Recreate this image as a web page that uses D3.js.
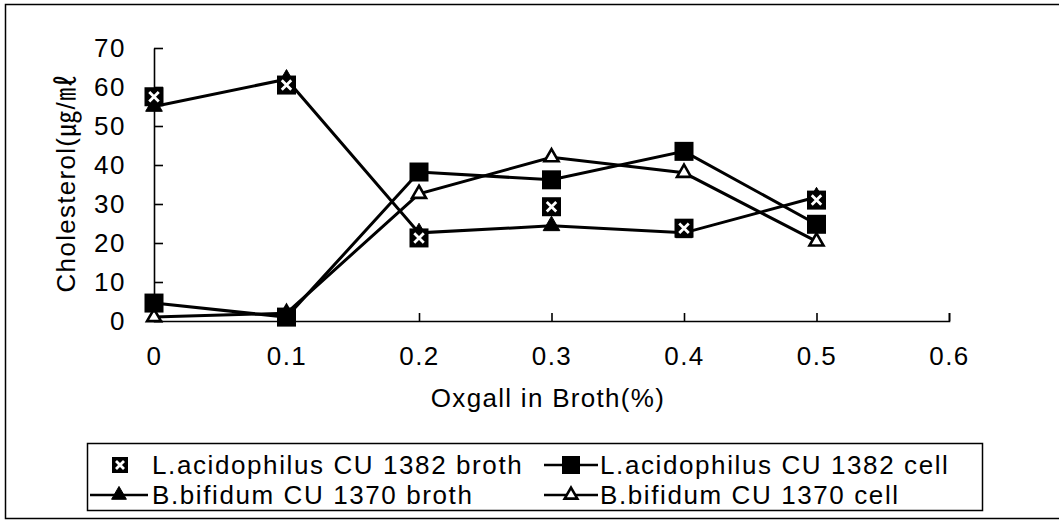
<!DOCTYPE html>
<html>
<head>
<meta charset="utf-8">
<script src="https://cdn.jsdelivr.net/npm/d3@7"></script>
<style>
  body { margin: 0; background: #fff; }
  text { font-family: "Liberation Sans", Arial, "Noto Sans CJK KR", sans-serif; fill: #000; }
</style>
</head>
<body>
<svg id="chart" width="1059" height="527"></svg>
<script>
// values
var oxgall = [0, 0.1, 0.2, 0.3, 0.4, 0.5];
var laBroth = [57.5, 60.5, 21.3, 29.3, 23.8, 31];
var laCell = [4.6, 1, 38.2, 36.2, 43.5, 24.8];
var bbBroth = [55, 62, 22.6, 24.4, 22.6, 31.8];
var bbCell = [1, 2, 32.6, 42, 38, 20.4];
var xTicks = [0, 0.1, 0.2, 0.3, 0.4, 0.5, 0.6];
var yTicks = [0, 10, 20, 30, 40, 50, 60, 70];
var legendNames = ['L.acidophilus CU 1382 broth', 'L.acidophilus CU 1382 cell',
  'B.bifidum CU 1370 broth', 'B.bifidum CU 1370 cell'];

var svg = d3.select('#chart');

// outer frame (right side is cut off in the original)
svg.append('path')
  .attr('d', 'M1059,4.5H5.5V518.5H1059')
  .attr('fill', 'none')
  .attr('stroke', '#000')
  .attr('stroke-width', 1.5);

var xScale = d3.scaleLinear().domain([0, 0.6]).range([154, 949]);
var yScale = d3.scaleLinear().domain([0, 70]).range([321, 48]);

var xAxis = d3.axisBottom(xScale)
  .tickValues(xTicks)
  .tickFormat(function (d) { return String(d); })
  .tickSizeInner(-8)
  .tickSizeOuter(-8)
  .tickPadding(26);
var yAxis = d3.axisLeft(yScale)
  .tickValues(yTicks)
  .tickSizeInner(-9)
  .tickSizeOuter(0)
  .tickPadding(28);

var gx = svg.append('g')
  .attr('transform', 'translate(0,' + yScale(0) + ')')
  .call(xAxis);
var gy = svg.append('g')
  .attr('transform', 'translate(' + xScale(0) + ',0)')
  .call(yAxis);

[gx, gy].forEach(function (g) {
  g.selectAll('path, line').attr('stroke', '#000').attr('stroke-width', 1.6);
  g.selectAll('text')
    .attr('fill', '#000')
    .style('font-family', '"Liberation Sans", Arial, sans-serif')
    .style('font-size', '26px')
    .style('letter-spacing', '1.5px');
});

// axis titles
svg.append('text')
  .attr('x', 548)
  .attr('y', 407)
  .attr('text-anchor', 'middle')
  .style('font-size', '26px')
  .style('letter-spacing', '1.3px')
  .text('Oxgall in Broth(%)');
svg.append('text')
  .attr('transform', 'translate(75,183) rotate(-90)')
  .attr('text-anchor', 'middle')
  .style('font-size', '26px')
  .style('letter-spacing', '1.3px')
  .text('Cholesterol(㎍/㎖');

var line = d3.line()
  .x(function (d, i) { return xScale(oxgall[i]); })
  .y(function (d) { return yScale(d); });

var plot = svg.append('g');

[laCell, bbBroth, bbCell].forEach(function (s) {
  plot.append('path')
    .attr('d', line(s))
    .attr('fill', 'none')
    .attr('stroke', '#000')
    .attr('stroke-width', 3);
});

// marker drawers
function xSquare(g, cx, cy, s) {
  g.append('rect')
    .attr('x', cx - s / 2).attr('y', cy - s / 2)
    .attr('width', s).attr('height', s)
    .attr('fill', '#000');
  var k = s * 0.25;
  g.append('path')
    .attr('d', 'M' + (cx - k) + ',' + (cy - k) + 'L' + (cx + k) + ',' + (cy + k) +
      'M' + (cx + k) + ',' + (cy - k) + 'L' + (cx - k) + ',' + (cy + k))
    .attr('stroke', '#fff')
    .attr('stroke-width', 2.8);
}
function fillSquare(g, cx, cy, s) {
  g.append('rect')
    .attr('x', cx - s / 2).attr('y', cy - s / 2)
    .attr('width', s).attr('height', s)
    .attr('fill', '#000');
}
function triangle(g, cx, cy, area, open) {
  g.append('path')
    .attr('transform', 'translate(' + cx + ',' + cy + ')')
    .attr('d', d3.symbol().type(d3.symbolTriangle).size(area)())
    .attr('fill', open ? '#fff' : '#000')
    .attr('stroke', '#000')
    .attr('stroke-width', open ? 2.6 : 1);
}

bbCell.forEach(function (d, i) { triangle(plot, xScale(oxgall[i]), yScale(d), 85, true); });
laCell.forEach(function (d, i) { fillSquare(plot, xScale(oxgall[i]), yScale(d), 19); });
bbBroth.forEach(function (d, i) { triangle(plot, xScale(oxgall[i]), yScale(d), 120, false); });
laBroth.forEach(function (d, i) { xSquare(plot, xScale(oxgall[i]), yScale(d), 19); });

// legend
var leg = svg.append('g');
leg.append('rect')
  .attr('x', 87.5).attr('y', 443.5)
  .attr('width', 895).attr('height', 67)
  .attr('fill', '#fff')
  .attr('stroke', '#000')
  .attr('stroke-width', 1.5);

var rows = [465, 495];
var icons = [[90, 148], [544, 598]];
var textX = [152, 600];
function legLine(x0, x1, y) {
  leg.append('line')
    .attr('x1', x0).attr('x2', x1).attr('y1', y).attr('y2', y)
    .attr('stroke', '#000').attr('stroke-width', 2.6);
}
function mid(c) { return (icons[c][0] + icons[c][1]) / 2; }
xSquare(leg, 120, rows[0], 16);
legLine(icons[1][0], icons[1][1], rows[0]);
fillSquare(leg, mid(1), rows[0], 18);
legLine(icons[0][0], icons[0][1], rows[1]);
triangle(leg, mid(0), rows[1], 95, false);
legLine(icons[1][0], icons[1][1], rows[1]);
triangle(leg, mid(1), rows[1], 70, true);

legendNames.forEach(function (name, i) {
  var r = Math.floor(i / 2), c = i % 2;
  leg.append('text')
    .attr('x', textX[c])
    .attr('y', rows[r])
    .attr('dy', '0.36em')
    .style('font-size', '26px')
    .style('letter-spacing', '1.6px')
    .text(name);
});
</script>
</body>
</html>
